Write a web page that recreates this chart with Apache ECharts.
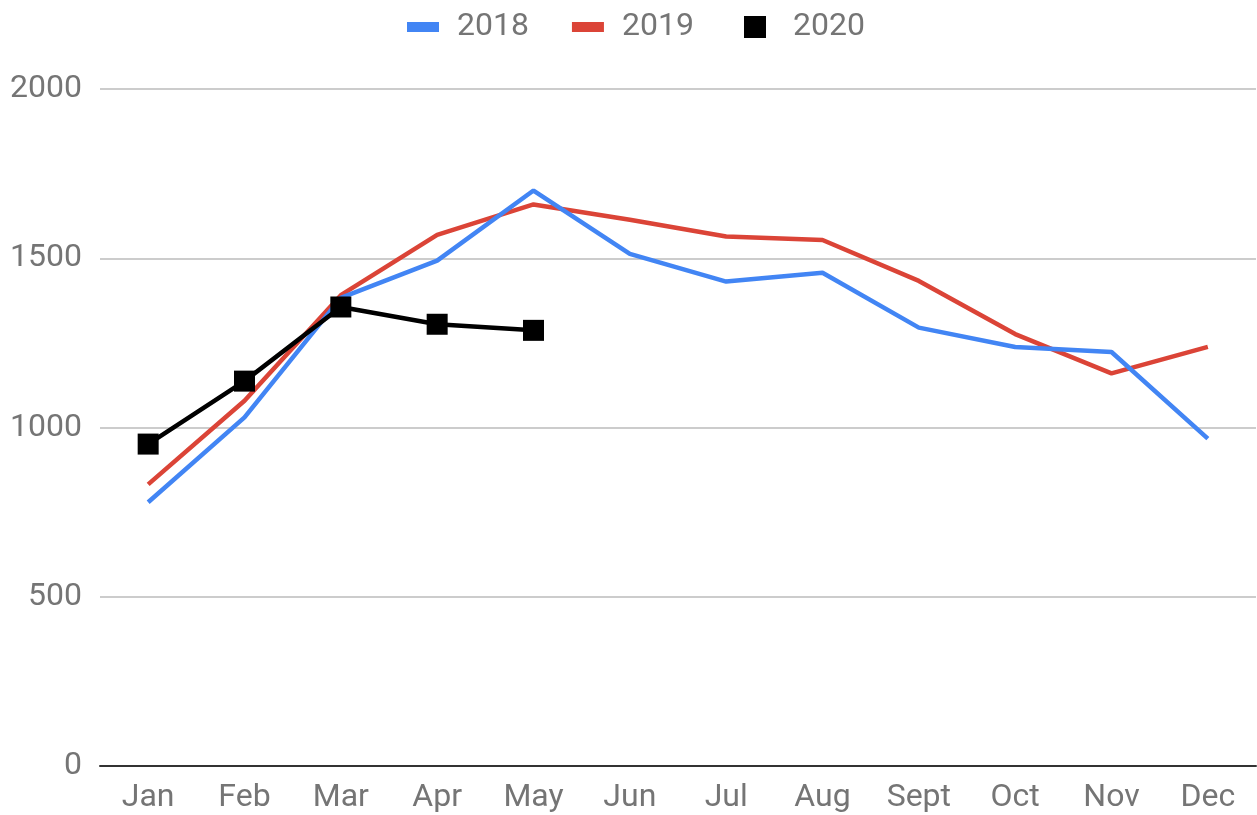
<!DOCTYPE html>
<html lang="en">
<head>
    <meta charset="UTF-8">
    <title>2018-2020</title>
    <style>
        html, body { margin: 0; padding: 0; background: #fff; }
    </style>
</head>
<body>
<div id="main" style="width: 1257px;height:815px;"></div>
<script src="https://cdn.jsdelivr.net/npm/echarts@6/dist/echarts.min.js"></script>
<script>
var months = ['Jan', 'Feb', 'Mar', 'Apr', 'May', 'Jun', 'Jul', 'Aug', 'Sept', 'Oct', 'Nov', 'Dec'];
var yTicks = [0, 500, 1000, 1500, 2000];
var data2018 = [779, 1030, 1383, 1493, 1700, 1513, 1431, 1457, 1295, 1238, 1223, 967];
var data2019 = [832, 1079, 1391, 1569, 1659, 1614, 1564, 1554, 1433, 1276, 1160, 1238];
var data2020 = [951, 1137, 1356, 1305, 1287];

var labelColor = '#757575';
var font = 'Roboto';

var myChart = echarts.init(document.getElementById('main'));

var option = {
    animation: false,
    textStyle: { fontFamily: font },
    legend: [{
        top: 6,
        left: 402,
        data: ['2018', '2019'],
        icon: 'rect',
        itemWidth: 32,
        itemHeight: 10,
        itemGap: 43,
        textStyle: { fontSize: 32, color: labelColor, fontFamily: font, padding: [0, 0, 0, 13] }
    }, {
        top: 6,
        left: 739,
        data: ['2020'],
        icon: 'rect',
        itemWidth: 22,
        itemHeight: 22,
        textStyle: { fontSize: 32, color: labelColor, fontFamily: font, padding: [0, 0, 0, 22] }
    }],
    grid: {
        left: 100,
        right: 1,
        top: 89,
        bottom: 49,
        containLabel: false
    },
    xAxis: {
        type: 'category',
        data: months,
        boundaryGap: true,
        axisLine: { lineStyle: { color: '#333333', width: 2 } },
        axisTick: { show: false },
        axisLabel: { fontSize: 32, color: labelColor, margin: 16, interval: 0 }
    },
    yAxis: {
        type: 'value',
        min: yTicks[0],
        max: yTicks[yTicks.length - 1],
        interval: 500,
        axisLine: { show: false },
        axisTick: { show: false },
        axisLabel: {
            fontSize: 32,
            color: labelColor,
            margin: 18,
            formatter: function (v) { return String(v); }
        },
        splitLine: { lineStyle: { color: '#cccccc', width: 2 } }
    },
    series: [{
        name: '2018',
        type: 'line',
        z: 3,
        data: data2018,
        showSymbol: false,
        symbol: 'none',
        color: '#4285F4',
        lineStyle: { width: 4.5, color: '#4285F4' }
    }, {
        name: '2019',
        type: 'line',
        z: 2,
        data: data2019,
        showSymbol: false,
        symbol: 'none',
        color: '#DB4437',
        lineStyle: { width: 4.5, color: '#DB4437' }
    }, {
        name: '2020',
        type: 'line',
        z: 4,
        data: data2020,
        symbol: 'rect',
        symbolSize: 21,
        color: '#000000',
        itemStyle: { color: '#000000' },
        lineStyle: { width: 4.5, color: '#000000' }
    }]
};

myChart.setOption(option);
</script>
</body>
</html>
